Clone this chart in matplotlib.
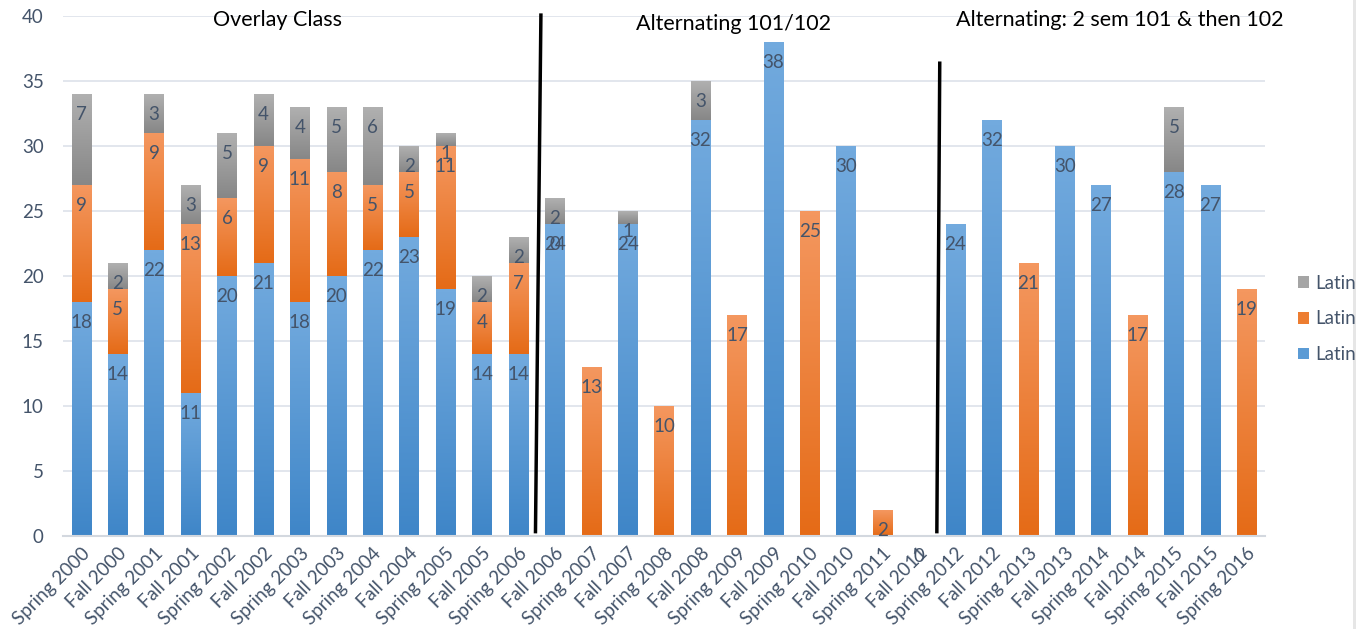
import numpy as np
import matplotlib
matplotlib.use("Agg")
import matplotlib.pyplot as plt
from matplotlib.colors import LinearSegmentedColormap
from matplotlib.patches import Patch, Rectangle

plt.rcParams['font.family'] = ['Lato', 'DejaVu Sans']

# --- Data ---
nan = np.nan
semesters = ['Spring 2000', 'Fall 2000', 'Spring 2001', 'Fall 2001', 'Spring 2002',
             'Fall 2002', 'Spring 2003', 'Fall 2003', 'Spring 2004', 'Fall 2004',
             'Spring 2005', 'Fall 2005', 'Spring 2006', 'Fall 2006', 'Spring 2007',
             'Fall 2007', 'Spring 2008', 'Fall 2008', 'Spring 2009', 'Fall 2009',
             'Spring 2010', 'Fall 2010', 'Spring 2011', 'Fall 2011', 'Spring 2012',
             'Fall 2012', 'Spring 2013', 'Fall 2013', 'Spring 2014', 'Fall 2014',
             'Spring 2015', 'Fall 2015', 'Spring 2016']
# blank cells are nan (no label), explicit zeros get a label
latin_blue = [18, 14, 22, 11, 20, 21, 18, 20, 22, 23, 19, 14, 14, 24, nan, 24, nan,
              32, nan, 38, nan, 30, nan, 0, 24, 32, nan, 30, 27, nan, 28, 27, nan]
latin_orange = [9, 5, 9, 13, 6, 9, 11, 8, 5, 5, 11, 4, 7, 0, 13, nan, 10, nan, 17,
                nan, 25, nan, 2, nan, nan, nan, 21, nan, nan, 17, nan, nan, 19]
latin_gray = [7, 2, 3, 3, 5, 4, 4, 5, 6, 2, 1, 2, 2, 2, nan, 1, nan, 3, nan, nan,
              nan, nan, nan, nan, nan, nan, nan, nan, nan, nan, 5, nan, nan]
legend_labels = ['Latin', 'Latin', 'Latin']

section_titles = ['Overlay Class', 'Alternating 101/102',
                  'Alternating: 2 sem 101 & then 102']
section_title_x = [5.4, 17.9, 28.5]
section_title_y = [39.7, 39.4, 39.7]
# hand-drawn divider lines (x0, y0, x1, y1) in data units
dividers = [(12.62, 40.2, 12.47, 0.2), (23.57, 36.5, 23.49, 0.2)]

# --- Style ---
LABEL_COLOR = '#44546A'
FS = 13.5
BAR_W = 0.53
series = [
    (latin_blue, '#72aade', '#3f86c8', '#5b9bd5'),
    (latin_orange, '#f4975f', '#e56b17', '#ed7d31'),
    (latin_gray, '#b0b0b0', '#878787', '#a5a5a5'),
]

fig = plt.figure(figsize=(13.56, 6.29), dpi=100)
ax = fig.add_axes([0.0465, 0.1479, 0.8864, 0.8267])

x = np.arange(len(semesters))
bottom = np.zeros(len(semesters))
grad = np.linspace(1, 0, 64).reshape(-1, 1)

for values, top_c, bot_c, base_c in series:
    cmap = LinearSegmentedColormap.from_list('g', [bot_c, top_c])
    vals = np.array(values, dtype=float)
    for i, v in enumerate(vals):
        if np.isnan(v):
            continue
        b = bottom[i]
        if v > 0:
            ax.imshow(grad, extent=[i - BAR_W / 2, i + BAR_W / 2, b, b + v],
                      aspect='auto', cmap=cmap, vmin=0, vmax=1, zorder=2,
                      interpolation='bilinear')
        ax.annotate(f'{int(v)}', xy=(i, b + v), xytext=(0, -15),
                    textcoords='offset points', ha='center', va='center',
                    fontsize=FS, color=LABEL_COLOR, zorder=5,
                    annotation_clip=False)
    bottom += np.nan_to_num(vals)

ax.set_xlim(-0.5, len(semesters) - 0.5)
ax.set_ylim(0, 40)
ax.set_yticks(np.arange(0, 41, 5))
ax.set_xticks(x)
ax.set_xticklabels(semesters, rotation=45, ha='right', rotation_mode='anchor')
ax.tick_params(axis='both', length=0, labelsize=FS, labelcolor=LABEL_COLOR)
ax.tick_params(axis='y', pad=14)
ax.tick_params(axis='x', pad=6)
ax.grid(axis='y', color='#dde2ea', linewidth=1.2, zorder=0)
ax.set_axisbelow(True)
for side in ['top', 'right', 'left']:
    ax.spines[side].set_visible(False)
ax.spines['bottom'].set_color('#d3d8df')
ax.spines['bottom'].set_linewidth(1.5)

for t, tx, ty in zip(section_titles, section_title_x, section_title_y):
    ax.text(tx, ty, t, ha='center', va='center', fontsize=15.5, color='black',
            zorder=6, clip_on=False)

for x0, y0, x1, y1 in dividers:
    ax.plot([x0, x1], [y0, y1], color='black', linewidth=2.5, zorder=6,
            clip_on=False, solid_capstyle='butt')

handles = [Patch(facecolor=series[k][3]) for k in (2, 1, 0)]
fig.legend(handles, legend_labels, loc='center left',
           bbox_to_anchor=(0.957, 0.493), frameon=False, fontsize=FS,
           labelcolor=LABEL_COLOR, handlelength=0.6, handleheight=0.6,
           handletextpad=0.35, labelspacing=1.0, borderpad=0, borderaxespad=0)

fig.patches.append(Rectangle((0.9975, 0), 0.0025, 1, transform=fig.transFigure,
                             facecolor='#e6e6e6', edgecolor='none'))

fig.savefig('out.png', dpi=100)
